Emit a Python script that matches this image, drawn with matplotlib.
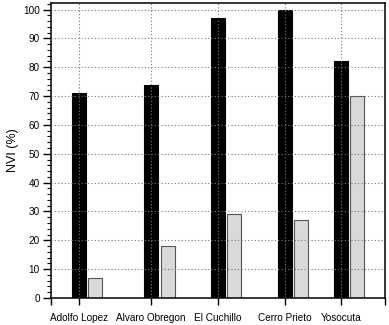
import matplotlib.pyplot as plt
from matplotlib.ticker import MultipleLocator

plt.rcParams['font.family'] = ['Liberation Sans', 'DejaVu Sans']

sites = ['Adolfo Lopez', 'Alvaro Obregon', 'El Cuchillo', 'Cerro Prieto', 'Yosocuta']
nvi_black = [71, 74, 97, 100, 82]
nvi_gray = [7, 18, 29, 27, 70]

# station positions along the axis (0..1), not evenly spaced
xpos = [0.083, 0.300, 0.500, 0.700, 0.867]
w = 0.042
off = 0.049

fig = plt.figure(figsize=(3.89, 3.25), dpi=100)
ax = fig.add_axes([0.131, 0.083, 0.859, 0.908])

ax.bar(xpos, nvi_black, width=w, color='black', edgecolor='black', linewidth=0.8, zorder=2)
ax.bar([p + off for p in xpos], nvi_gray, width=w, color='#d9d9d9',
       edgecolor='#555555', linewidth=0.8, zorder=2)

ax.set_xlim(0, 1)
ax.set_ylim(0, 102.3)
ax.set_xticks([0] + xpos + [1])
ax.set_xticklabels([''] + sites + [''], fontsize=7.2)
ax.yaxis.set_major_locator(MultipleLocator(10))
ax.yaxis.set_minor_locator(MultipleLocator(2))
ax.tick_params(axis='y', which='major', length=6, width=1, labelsize=7.2, pad=2)
ax.tick_params(axis='y', which='minor', length=3, width=0.8)
ax.tick_params(axis='x', length=5, width=1, pad=6)
ax.set_ylabel('NVI (%)', fontsize=9, labelpad=3)

for s in ax.spines.values():
    s.set_linewidth(1.1)

# dotted grid over the bars
for y in range(10, 101, 10):
    ax.axhline(y, color='#777777', linestyle=(0, (1, 2)), linewidth=0.8, zorder=3)
for p in xpos:
    ax.axvline(p, color='#777777', linestyle=(0, (1, 2)), linewidth=0.8, zorder=3)

fig.savefig('out.png', dpi=100)
